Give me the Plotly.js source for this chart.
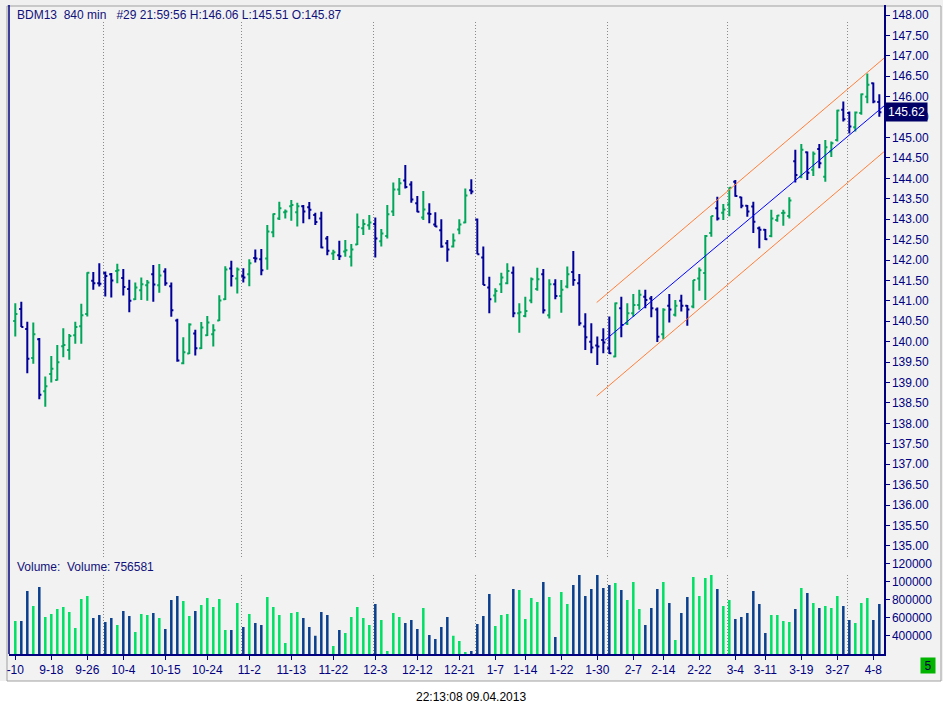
<!DOCTYPE html>
<html>
<head>
<meta charset="utf-8">
<script src="https://cdn.plot.ly/plotly-3.0.1.min.js"></script>
<style>
html, body { margin: 0; padding: 0; background: #fff; }
#chart { width: 943px; height: 716px; }
</style>
</head>
<body>
<div id="chart"></div>
<script>
// BDM13, 840 min bars, one bar per trading day from 9-10 to 4-9
var openP = [140.51,140.80,140.31,139.60,140.06,138.79,139.21,139.06,139.89,139.80,
  140.16,140.38,140.68,141.49,141.43,141.68,141.65,141.73,141.56,141.29,
  141.04,141.26,141.38,141.65,141.38,141.72,141.36,140.52,139.47,139.71,
  140.20,139.84,140.16,140.18,140.52,141.04,141.79,141.55,141.61,141.65,
  142.05,142.02,142.04,142.68,143.02,143.17,143.32,143.17,143.32,143.29,
  143.10,143.02,142.53,142.16,142.12,142.21,142.08,142.38,142.78,142.85,
  142.88,142.46,142.59,143.19,143.73,143.95,143.85,143.39,143.04,143.14,
  142.87,142.73,142.41,142.33,142.75,142.92,143.71,142.99,142.06,141.33,
  141.13,141.41,141.43,141.69,140.70,140.63,141.01,141.29,141.65,140.65,
  141.41,141.12,141.35,141.71,141.43,140.37,140.00,139.91,140.04,139.84,
  139.64,140.82,140.45,140.70,140.90,141.10,141.06,140.79,140.18,140.88,
  140.66,141.00,140.88,140.86,141.55,141.68,142.66,143.27,143.16,143.36,
  143.92,143.54,143.33,143.31,142.78,142.74,142.59,142.98,143.15,143.08,
  144.42,144.04,144.64,144.21,144.72,144.04,144.66,144.94,145.68,145.60,
  145.25,145.60,146.00,146.33,145.87];
var highP = [140.94,140.98,140.49,140.47,140.09,139.15,139.65,139.92,140.33,140.19,
  140.49,140.93,141.70,141.71,141.92,141.72,141.68,141.91,141.78,141.52,
  141.45,141.57,141.51,141.88,141.90,141.80,141.45,140.56,140.11,140.45,
  140.29,140.48,140.63,140.43,141.14,141.85,141.98,141.82,141.80,142.02,
  142.26,142.27,142.86,143.14,143.43,143.24,143.47,143.40,143.35,143.42,
  143.16,143.18,142.59,142.25,142.47,142.49,142.39,143.14,143.00,143.10,
  143.04,142.76,143.35,143.90,144.01,144.33,143.93,143.57,143.69,143.39,
  143.17,143.00,142.49,142.65,143.00,143.75,143.98,143.02,142.33,141.59,
  141.31,141.69,141.92,141.84,140.94,141.10,141.57,141.81,141.78,141.53,
  141.53,141.51,141.84,142.22,141.66,140.70,140.45,140.13,140.33,140.62,
  140.96,141.10,140.94,141.17,141.27,141.27,141.12,140.84,140.82,141.17,
  141.02,141.15,140.90,141.51,141.82,142.61,143.08,143.55,143.37,143.78,
  143.96,143.55,143.35,143.43,142.82,142.76,143.23,143.10,143.23,143.54,
  144.70,144.84,144.66,144.66,144.84,144.94,144.90,145.68,145.88,145.64,
  145.64,146.08,146.57,146.35,146.06];
var lowP = [140.13,140.36,139.23,139.46,138.59,138.41,139.00,139.05,139.62,139.56,
  139.95,139.95,140.62,141.27,141.35,141.11,141.08,141.43,141.13,140.72,
  141.02,141.02,141.00,140.98,141.20,141.37,140.61,139.51,139.45,139.70,
  139.66,139.82,140.14,139.88,140.51,141.02,141.35,141.18,141.45,141.36,
  141.94,141.63,141.76,142.56,142.98,143.02,142.96,142.82,142.90,143.00,
  142.86,142.29,142.12,142.00,142.00,142.08,141.84,142.37,142.61,142.74,
  142.06,142.33,142.53,143.08,143.59,143.75,143.40,143.17,142.98,142.90,
  142.81,142.30,141.96,142.31,142.63,142.90,143.61,142.14,141.39,140.70,
  140.96,141.19,141.41,140.60,140.22,140.60,140.94,141.25,140.69,140.57,
  141.04,140.71,141.31,141.37,140.39,139.80,139.72,139.43,139.72,139.70,
  139.62,140.11,140.41,140.61,140.78,140.82,140.60,139.99,140.06,140.47,
  140.62,140.74,140.39,140.82,141.25,141.02,142.57,142.97,142.98,143.07,
  143.55,143.27,143.06,142.66,142.29,142.49,142.56,142.94,142.84,143.02,
  143.90,144.00,143.96,144.06,144.25,143.92,144.52,144.90,145.39,145.10,
  145.15,145.56,145.84,145.84,145.51];
var closeP = [140.68,140.36,139.58,140.18,138.70,138.91,139.34,139.50,139.92,140.14,
  140.36,140.65,141.69,141.43,141.42,141.61,141.50,141.75,141.34,141.00,
  141.33,141.41,141.45,141.40,141.62,141.43,140.77,139.54,139.74,140.42,
  139.84,140.35,140.47,140.28,141.01,141.77,141.61,141.77,141.57,141.92,
  142.04,141.75,142.70,143.13,143.27,143.19,143.35,143.32,143.19,143.23,
  142.93,142.31,142.23,142.19,142.09,142.24,142.26,142.81,142.88,142.92,
  142.53,142.65,143.12,143.73,143.88,143.79,143.48,143.18,143.24,143.13,
  142.82,142.33,142.26,142.48,142.87,143.58,143.68,142.14,141.39,141.04,
  141.24,141.57,141.73,140.70,140.72,140.75,141.53,141.53,140.77,141.41,
  141.12,141.27,141.65,141.51,140.45,140.11,139.86,139.88,139.98,139.72,
  140.94,140.41,140.70,140.90,141.15,141.02,140.82,140.12,140.78,140.79,
  140.88,140.88,140.79,141.51,141.75,142.59,143.08,143.02,143.24,143.77,
  143.57,143.33,143.19,142.94,142.74,142.51,143.02,143.09,143.16,143.46,
  144.08,144.70,144.14,144.60,144.37,144.76,144.86,145.66,145.45,145.27,
  145.61,146.06,146.29,145.88,145.62];
var volume = [567000,567000,900000,733000,944000,611000,644000,700000,722000,667000,
  489000,811000,844000,600000,633000,555000,600000,522000,678000,622000,
  444000,644000,633000,656000,600000,478000,800000,844000,789000,622000,
  678000,744000,822000,722000,811000,467000,467000,767000,500000,644000,
  544000,522000,833000,722000,633000,322000,656000,667000,600000,500000,
  404000,667000,633000,289000,467000,433000,611000,722000,600000,522000,
  756000,578000,233000,656000,611000,544000,578000,478000,711000,411000,
  367000,500000,611000,404000,344000,222000,233000,533000,622000,867000,
  511000,633000,644000,922000,911000,589000,822000,778000,1000000,833000,
  389000,889000,756000,967000,1078000,844000,922000,1078000,933000,967000,
  989000,911000,800000,1000000,700000,522000,711000,922000,1000000,767000,
  356000,656000,833000,1056000,844000,1044000,1078000,922000,733000,800000,
  589000,611000,656000,900000,756000,433000,633000,633000,567000,556000,
  700000,933000,878000,767000,711000,733000,711000,844000,733000,578000,
  544000,767000,822000,578000,756581];

// date labels on the time axis (bar index -> label)
var tickIdx = [0,6,12,18,25,32,39,46,53,60,67,74,80,85,91,97,103,108,114,120,125,131,137,143];
var tickText = ['-10','9-18','9-26','10-4','10-15','10-24','11-2','11-13','11-22','12-3','12-12','12-21',
  '1-7','1-14','1-22','1-30','2-7','2-14','2-22','3-4','3-11','3-19','3-27','4-8'];
// first bar of each new month
var monthStart = [15,38,60,77,99,119,139];

// regression channel drawn on the chart (bar index, price)
var chanX = [96.9, 145];
var regX = [98.3, 145];
var regY = [140.04, 145.80];
var upperY = [140.96, 146.97];
var lowerY = [138.67, 144.68];

var volTicks = [400000,600000,800000,1000000,1200000];
var volTickText = ['400000','600000','800000','100000','120000'];

var navy = '#000080';
var upColor = '#00a65a', downColor = '#000099';
var volUp = '#00e064', volDown = '#0a3f8c';

var idx = [], volColors = [];
for (var i = 0; i < openP.length; i++) {
  idx.push(i);
  volColors.push(closeP[i] > openP[i] ? volUp : volDown);
}

// pixel helpers for things placed outside the plot area
var L = 9, R = 59, T = 5, B = 62, W = 943, H = 716;
function px(x) { return (x - L) / (W - L - R); }
function py(y) { return (H - B - y) / (H - T - B); }

var traces = [
  {
    type: 'ohlc', x: idx, open: openP, high: highP, low: lowP, close: closeP,
    xaxis: 'x', yaxis: 'y', tickwidth: 0.35,
    increasing: {line: {color: upColor, width: 2}},
    decreasing: {line: {color: downColor, width: 2}},
    hoverinfo: 'skip', showlegend: false
  },
  {type: 'scatter', mode: 'lines', x: chanX, y: upperY, line: {color: '#ff7f3a', width: 1}, hoverinfo: 'skip'},
  {type: 'scatter', mode: 'lines', x: chanX, y: lowerY, line: {color: '#ff7f3a', width: 1}, hoverinfo: 'skip'},
  {type: 'scatter', mode: 'lines', x: regX, y: regY, line: {color: '#0000ff', width: 1}, hoverinfo: 'skip'},
  {
    type: 'bar', x: idx, y: volume, xaxis: 'x', yaxis: 'y2', width: 0.42,
    marker: {color: volColors, line: {width: 0}}, hoverinfo: 'skip'
  }
];

var shapes = [
  {type: 'rect', xref: 'paper', yref: 'paper', x0: px(0), x1: px(943), y0: py(681), y1: py(0),
   fillcolor: '#f0f0f0', line: {width: 0}, layer: 'below'},
  {type: 'rect', xref: 'paper', yref: 'paper', x0: px(7), x1: px(941), y0: py(681), y1: py(6),
   fillcolor: '#f2f2f2', line: {color: '#a0a0a0', width: 1}, layer: 'below'},
  {type: 'line', xref: 'paper', yref: 'paper', x0: 0, x1: 0, y0: 0, y1: 1,
   line: {color: navy, width: 1.5}}
];
monthStart.forEach(function (m) {
  shapes.push({type: 'line', xref: 'x', yref: 'paper', x0: m - 0.3, x1: m - 0.3, y0: py(557), y1: py(22),
    line: {color: '#8a8a8a', width: 1, dash: '1px,2px'}, layer: 'below'});
  shapes.push({type: 'line', xref: 'x', yref: 'paper', x0: m - 0.3, x1: m - 0.3, y0: 0, y1: py(575),
    line: {color: '#8a8a8a', width: 1, dash: '1px,2px'}, layer: 'below'});
});

var nb = '\u00a0';
var annotations = [
  {xref: 'paper', yref: 'paper', x: px(15), y: py(15), xanchor: 'left', yanchor: 'middle', showarrow: false,
   text: 'BDM13' + nb + nb + '840 min' + nb + nb + nb + '#29 21:59:56 H:146.06 L:145.51 O:145.87',
   font: {size: 12, color: '#10107a'}},
  {xref: 'paper', yref: 'paper', x: px(15), y: py(567), xanchor: 'left', yanchor: 'middle', showarrow: false,
   text: 'Volume:' + nb + nb + 'Volume: 756581', font: {size: 12, color: '#10107a'}},
  {xref: 'paper', yref: 'y', x: 1, y: closeP[closeP.length - 1], xanchor: 'left', yanchor: 'middle', showarrow: false,
   text: closeP[closeP.length - 1].toFixed(2), bgcolor: '#000066', borderpad: 2, xshift: 1,
   font: {size: 12, color: '#ffffff'}},
  {xref: 'paper', yref: 'paper', x: px(928), y: py(665), xanchor: 'center', yanchor: 'middle', showarrow: false,
   text: '5', bgcolor: '#00b400', width: 12, height: 13, borderpad: 1, font: {size: 12, color: '#000040'}},
  {xref: 'paper', yref: 'paper', x: px(471), y: py(697), xanchor: 'center', yanchor: 'middle', showarrow: false,
   text: '22:13:08 09.04.2013', font: {size: 12, color: '#000000'}}
];

var axisFont = {family: 'Liberation Sans, Arial, sans-serif', size: 12, color: navy};

var layout = {
  width: W, height: H,
  margin: {l: L, r: R, t: T, b: B, pad: 0},
  paper_bgcolor: '#ffffff',
  plot_bgcolor: 'rgba(0,0,0,0)',
  font: {family: 'Liberation Sans, Arial, sans-serif', size: 12, color: navy},
  showlegend: false,
  dragmode: false,
  xaxis: {
    range: [-1.05, 144.78], anchor: 'y2', rangeslider: {visible: false},
    tickmode: 'array', tickvals: tickIdx, ticktext: tickText, tickangle: 0,
    ticks: 'outside', ticklen: 4, tickcolor: navy, tickfont: axisFont,
    showline: true, linecolor: navy, linewidth: 1.5, showgrid: false, zeroline: false
  },
  yaxis: {
    domain: [0.149, 1], range: [134.721, 148.245], side: 'right', anchor: 'x',
    tick0: 135, dtick: 0.5, tickformat: '.2f',
    ticks: 'outside', ticklen: 4, tickcolor: navy, tickfont: axisFont,
    showline: true, linecolor: navy, linewidth: 1.5, showgrid: false, zeroline: false
  },
  yaxis2: {
    domain: [0, 0.149], range: [200000, 1274444], side: 'right', anchor: 'x',
    tickmode: 'array', tickvals: volTicks, ticktext: volTickText,
    ticks: 'outside', ticklen: 4, tickcolor: navy, tickfont: axisFont,
    showline: true, linecolor: navy, linewidth: 1.5, showgrid: false, zeroline: false
  },
  shapes: shapes,
  annotations: annotations
};

Plotly.newPlot('chart', traces, layout, {displayModeBar: false, staticPlot: true});
</script>
</body>
</html>
